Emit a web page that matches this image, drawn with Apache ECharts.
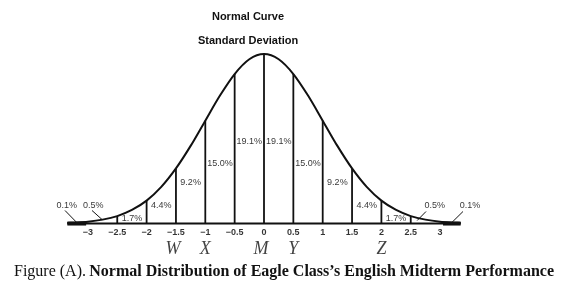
<!DOCTYPE html>
<html><head><meta charset="utf-8">
<script src="https://cdn.jsdelivr.net/npm/echarts@6/dist/echarts.min.js"></script>
<style>html,body{margin:0;padding:0;background:#fff}#c{width:568px;height:289px}</style>
</head><body><div id="c"></div>
<script>
// Curve points (x in SD units, relative height)
const curveX = [-3.35,-3.25,-3,-2.75,-2.5,-2.25,-2,-1.75,-1.5,-1.25,-1,-0.75,-0.5,-0.25,0,0.25,0.5,0.75,1,1.25,1.5,1.75,2,2.25,2.5,2.75,3,3.25,3.35];
const curveY = [0.003,0.005,0.011,0.023,0.044,0.080,0.135,0.216,0.325,0.458,0.607,0.755,0.882,0.969,1.0,0.969,0.882,0.755,0.607,0.458,0.325,0.216,0.135,0.080,0.044,0.023,0.011,0.005,0.003];
// Vertical divider lines
const dividerX = [-2.5,-2,-1.5,-1,-0.5,0,0.5,1,1.5,2,2.5];
const dividerH = [0.044,0.135,0.325,0.607,0.882,1.0,0.882,0.607,0.325,0.135,0.044];
// Percent labels
const pctText = ['0.1%','0.5%','1.7%','4.4%','9.2%','15.0%','19.1%','19.1%','15.0%','9.2%','4.4%','1.7%','0.5%','0.1%'];
const pctX = [-3.36,-2.91,-2.25,-1.75,-1.25,-0.75,-0.25,0.25,0.75,1.25,1.75,2.25,2.91,3.51];
const pctY = [0.109,0.109,0.027,0.109,0.24,0.355,0.483,0.483,0.355,0.24,0.109,0.027,0.109,0.109];
// Leader lines [x1,y1,x2,y2]
const leaderLines = [[-3.39,0.077,-3.19,0.006],[-2.93,0.077,-2.76,0.024],[2.76,0.071,2.61,0.018],[3.39,0.071,3.20,0.006]];
// Thick end segments of baseline
const thickEnds = [[-3.35,-3.03],[3.05,3.35]];
// Tick labels range
const tickMin = -3, tickMax = 3;
// Letter markers
const letterPlain = ['W','X','M','Y','Z'];
const letterX = [-1.55,-1.0,-0.05,0.5,2.0];
const letterY = -0.15;

const chart = echarts.init(document.getElementById('c'), null, {renderer:'canvas'});
const BLACK = '#111';
function segSeries(name, segs, width){
  return {
    type:'custom', name, silent:true, clip:false,
    data: segs,
    renderItem(params, api){
      const p1 = api.coord([api.value(0), api.value(1)]);
      const p2 = api.coord([api.value(2), api.value(3)]);
      return {type:'line', shape:{x1:p1[0],y1:p1[1],x2:p2[0],y2:p2[1]}, style:{stroke:BLACK, lineWidth:width}};
    }
  };
}
const option = {
  animation:false,
  grid:{left:29.2, right:69.2, top:20.1, bottom:14.6},
  xAxis:{type:'value', min:-4, max:4, interval:0.5,
    axisLine:{show:false}, axisTick:{show:false}, splitLine:{show:false},
    axisLabel:{show:false}},
  yAxis:{type:'value', min:-0.3, max:1.2, show:false, splitLine:{show:false}},
  title:[
    {text:'Normal Curve', left:243, top:6, textAlign:'center', textStyle:{fontFamily:'Liberation Sans', fontSize:11, fontWeight:'bold', color:BLACK}},
    {text:'Standard Deviation', left:243, top:30, textAlign:'center', textStyle:{fontFamily:'Liberation Sans', fontSize:11, fontWeight:'bold', color:BLACK}}
  ],
  series:[
    {type:'line', data: curveX.map((x,i)=>[x,curveY[i]]), smooth:0.3, symbol:'none', lineStyle:{color:BLACK, width:2}, silent:true},
    segSeries('dividers', dividerX.map((x,i)=>[x,0,x,dividerH[i]]), 1.8),
    segSeries('baseline', [[curveX[0],0,curveX[curveX.length-1],0]], 2),
    segSeries('thick', thickEnds.map(s=>[s[0],0,s[1],0]), 4),
    segSeries('leaders', leaderLines, 1),
    {type:'scatter', symbolSize:0, silent:true,
      data: pctX.map((x,i)=>({value:[x,pctY[i]], label:{formatter:pctText[i]}})),
      label:{show:true, position:'inside', fontFamily:'Liberation Sans', fontSize:9, color:'#000'}},
    {type:'scatter', symbolSize:0, silent:true,
      data: (()=>{const a=[];for(let v=tickMin;v<=tickMax+1e-9;v+=0.5){a.push({value:[v,-0.052],label:{formatter:(v<0?'\u2212':'')+String(Math.abs(v))}});}return a;})(),
      label:{show:true, position:'inside', fontFamily:'Liberation Sans', fontSize:9, fontWeight:'bold', color:'#000'}},
    {type:'scatter', symbolSize:0, silent:true,
      data: letterX.map((x,i)=>({value:[x,letterY], label:{formatter:letterPlain[i]}})),
      label:{show:true, position:'inside', fontFamily:'Liberation Serif', fontStyle:'italic', fontSize:18, color:'#111'}}
  ],
  graphic:[
    {type:'text', left:14, top:264, style:{
      text:'{r|Figure (A).} {b|Normal Distribution of Eagle Class\u2019s English Midterm Performance}',
      rich:{r:{fontFamily:'Liberation Serif', fontSize:16, fill:BLACK}, b:{fontFamily:'Liberation Serif', fontSize:16, fontWeight:'bold', fill:BLACK}}
    }}
  ]
};
chart.setOption(option);
</script></body></html>
